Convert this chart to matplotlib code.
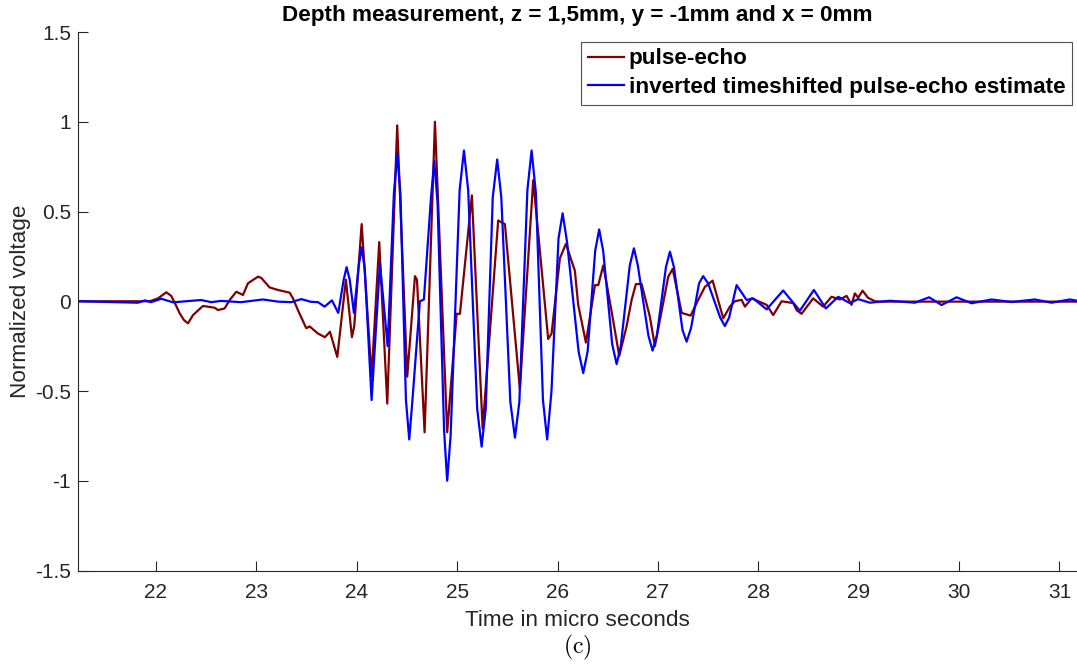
import matplotlib
matplotlib.use('Agg')
import matplotlib.pyplot as plt

# pulse-echo
echo_t = [21.223, 21.937, 22.020, 22.103, 22.152, 22.202, 22.236, 22.279, 22.319, 22.369,
          22.468, 22.585, 22.618, 22.684, 22.734, 22.800, 22.867, 22.916, 23.016, 23.049,
          23.132, 23.215, 23.332, 23.365, 23.414, 23.497, 23.531, 23.614, 23.683, 23.733,
          23.806, 23.892, 23.952, 23.975, 24.049, 24.148, 24.224, 24.304, 24.403, 24.503,
          24.580, 24.600, 24.676, 24.779, 24.901, 24.995, 25.028, 25.147, 25.254, 25.409,
          25.476, 25.625, 25.758, 25.907, 25.941, 26.024, 26.084, 26.173, 26.206, 26.283,
          26.373, 26.406, 26.456, 26.540, 26.615, 26.688, 26.738, 26.781, 26.838, 26.920,
          26.970, 27.103, 27.147, 27.237, 27.326, 27.401, 27.468, 27.545, 27.651, 27.717,
          27.767, 27.834, 27.867, 27.934, 28.083, 28.149, 28.232, 28.348, 28.382, 28.431,
          28.547, 28.646, 28.730, 28.813, 28.880, 28.929, 28.962, 28.995, 29.039, 29.092,
          29.161, 29.211, 31.173]
echo_v = [0.0, 0.0, 0.016, 0.05, 0.03, -0.026, -0.067, -0.105, -0.123, -0.077,
          -0.026, -0.036, -0.049, -0.04, 0.007, 0.053, 0.035, 0.10, 0.137, 0.13,
          0.077, 0.063, 0.048, 0.016, -0.049, -0.15, -0.14, -0.18, -0.20, -0.17,
          -0.31, 0.12, -0.20, -0.14, 0.43, -0.42, 0.33, -0.57, 0.98, -0.42,
          0.14, 0.12, -0.73, 1.0, -0.73, -0.07, -0.07, 0.59, -0.71, 0.45,
          0.43, -0.49, 0.675, -0.21, -0.18, 0.24, 0.32, 0.17, -0.02, -0.23,
          0.09, 0.09, 0.20, -0.06, -0.305, -0.14, 0.007, 0.096, 0.096, -0.086,
          -0.25, 0.137, 0.18, -0.065, -0.08, 0.007, 0.08, 0.115, -0.095, -0.03,
          0.0, 0.008, -0.03, 0.016, -0.02, -0.077, 0.0, -0.01, -0.05, -0.07,
          0.016, -0.03, 0.025, 0.01, 0.03, -0.02, 0.044, 0.02, 0.059, 0.02,
          0.0, -0.002, -0.002]

# inverted timeshifted pulse-echo estimate
est_t = [21.223, 21.821, 21.890, 21.950, 22.053, 22.169, 22.448, 22.551, 22.647, 22.847,
         23.066, 23.215, 23.348, 23.447, 23.544, 23.614, 23.680, 23.753, 23.816, 23.870,
         23.899, 23.930, 23.972, 24.020, 24.049, 24.080, 24.148, 24.231, 24.308, 24.370,
         24.403, 24.435, 24.490, 24.523, 24.555, 24.629, 24.669, 24.740, 24.772, 24.805,
         24.870, 24.901, 24.935, 25.025, 25.068, 25.110, 25.200, 25.244, 25.285, 25.355,
         25.399, 25.440, 25.530, 25.576, 25.620, 25.700, 25.742, 25.785, 25.855, 25.897,
         25.940, 26.010, 26.051, 26.095, 26.210, 26.256, 26.300, 26.375, 26.415, 26.455,
         26.545, 26.589, 26.630, 26.720, 26.761, 26.800, 26.905, 26.947, 26.990, 27.080,
         27.120, 27.160, 27.245, 27.286, 27.330, 27.410, 27.451, 27.500, 27.620, 27.667,
         27.710, 27.784, 27.884, 27.949, 28.083, 28.248, 28.414, 28.554, 28.673, 28.796,
         28.912, 28.995, 29.112, 29.311, 29.560, 29.702, 29.826, 29.975, 30.124, 30.324,
         30.523, 30.755, 30.921, 31.104, 31.173]
est_v = [0.0, -0.008, 0.005, -0.005, 0.014, -0.006, 0.007, -0.005, 0.002, -0.005,
         0.01, -0.002, -0.005, 0.012, -0.003, -0.005, -0.03, 0.005, -0.065, 0.12,
         0.19, 0.12, -0.065, 0.20, 0.30, 0.18, -0.55, 0.21, -0.25, 0.60,
         0.82, 0.60, -0.55, -0.77, -0.55, 0.0, 0.01, 0.58, 0.78, 0.55,
         -0.72, -1.0, -0.75, 0.62, 0.84, 0.62, -0.60, -0.81, -0.60, 0.58,
         0.79, 0.58, -0.56, -0.76, -0.56, 0.62, 0.84, 0.60, -0.55, -0.77,
         -0.50, 0.35, 0.49, 0.33, -0.28, -0.40, -0.28, 0.28, 0.40, 0.28,
         -0.24, -0.35, -0.25, 0.20, 0.295, 0.20, -0.19, -0.275, -0.19, 0.19,
         0.276, 0.19, -0.16, -0.225, -0.15, 0.10, 0.14, 0.10, -0.09, -0.138,
         -0.09, 0.09, 0.007, 0.016, -0.045, 0.06, -0.053, 0.063, -0.04, 0.025,
         -0.01, 0.012, -0.008, 0.003, -0.008, 0.022, -0.021, 0.022, -0.011, 0.01,
         -0.004, 0.01, -0.008, 0.01, 0.003]

x_ticks = [22, 23, 24, 25, 26, 27, 28, 29, 30, 31]
y_ticks = [-1.5, -1, -0.5, 0, 0.5, 1, 1.5]
y_tick_labels = ['-1.5', '-1', '-0.5', '0', '0.5', '1', '1.5']


def main():
    plt.rcParams['font.family'] = ['Liberation Sans', 'DejaVu Sans']
    plt.rcParams['mathtext.fontset'] = 'cm'

    fig = plt.figure(figsize=(10.77, 6.7), dpi=100)
    ax = fig.add_axes([0.0724, 0.1485, 0.9276, 0.8037])

    ax.plot(echo_t, echo_v, color='#800000', lw=1.6, label='pulse-echo')
    ax.plot(est_t, est_v, color='#0000ff', lw=1.6,
            label='inverted timeshifted pulse-echo estimate')

    ax.set_xlim(21.223, 31.175)
    ax.set_ylim(-1.5, 1.5)
    ax.set_xticks(x_ticks)
    ax.set_yticks(y_ticks)
    ax.set_yticklabels(y_tick_labels)
    ax.tick_params(direction='in', length=7, width=0.8, colors='#262626', labelsize=15)
    ax.tick_params(axis='x', pad=9)
    ax.tick_params(axis='y', pad=5)

    for side in ('top', 'right'):
        ax.spines[side].set_visible(False)
    for side in ('left', 'bottom'):
        ax.spines[side].set_color('#262626')
        ax.spines[side].set_linewidth(0.8)

    ax.set_xlabel('Time in micro seconds', fontsize=16.2, color='#262626', labelpad=6)
    ax.set_ylabel('Normalized voltage', fontsize=16.2, color='#262626', labelpad=3)
    ax.set_title('Depth measurement, z = 1,5mm, y = -1mm and x = 0mm',
                 fontsize=16.2, fontweight='bold', pad=8)

    leg = ax.legend(loc='upper right', bbox_to_anchor=(0.995, 0.982),
                    prop={'weight': 'bold', 'size': 16.2}, frameon=True, fancybox=False,
                    handlelength=1.6, handletextpad=0.2, labelspacing=0.35,
                    borderpad=0.3, borderaxespad=0)
    leg.get_frame().set_edgecolor('#262626')
    leg.get_frame().set_linewidth(0.8)

    fig.text(0.5357, 0.034, r'$\mathrm{(c)}$', fontsize=17, ha='center', va='center')

    fig.savefig('out.png', dpi=100)


if __name__ == '__main__':
    main()
